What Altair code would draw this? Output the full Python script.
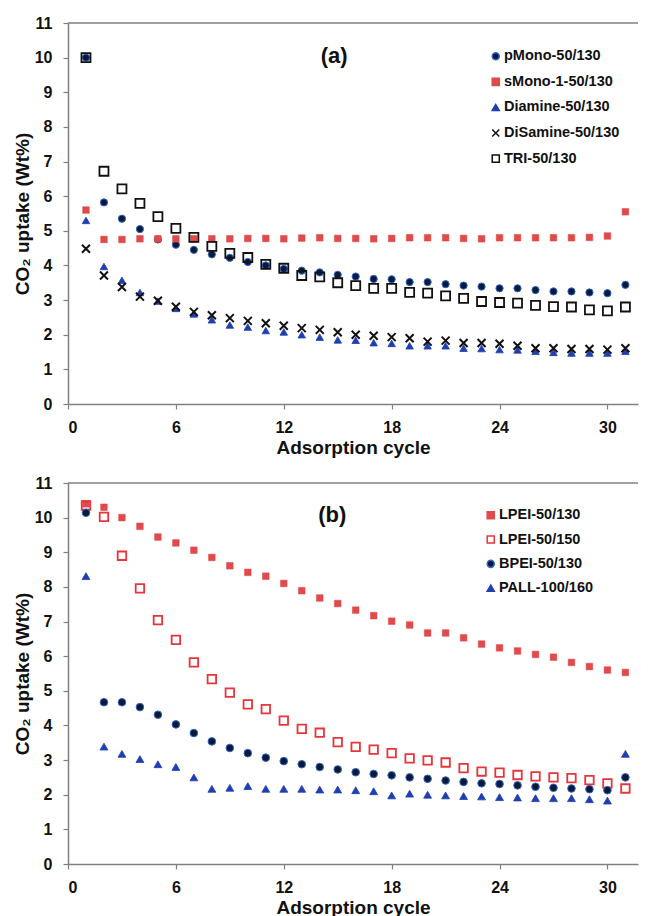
import altair as alt
import pandas as pd

FONT = "Liberation Sans"

cycles = list(range(1, 32))

# ---- Panel (a) ----
names_a = ["pMono-50/130", "sMono-1-50/130", "Diamine-50/130", "DiSamine-50/130", "TRI-50/130"]
pmono = [10, 5.82, 5.35, 5.05, 4.75, 4.6, 4.45, 4.32, 4.22, 4.1, 4.0, 3.9, 3.85, 3.8, 3.73, 3.68,
         3.61, 3.6, 3.52, 3.52, 3.46, 3.42, 3.39, 3.34, 3.34, 3.29, 3.25, 3.25, 3.22, 3.2, 3.44]
smono = [5.6, 4.75, 4.75, 4.77, 4.77, 4.77, 4.77, 4.77, 4.77, 4.78, 4.78, 4.77, 4.79, 4.8, 4.78, 4.78,
         4.77, 4.78, 4.8, 4.8, 4.8, 4.78, 4.77, 4.8, 4.8, 4.8, 4.8, 4.8, 4.81, 4.85, 5.55]
diamine = [5.3, 3.97, 3.57, 3.22, 2.97, 2.76, 2.6, 2.43, 2.28, 2.22, 2.12, 2.08, 2.0, 1.93, 1.85, 1.84,
           1.77, 1.75, 1.68, 1.68, 1.68, 1.61, 1.6, 1.57, 1.56, 1.52, 1.49, 1.47, 1.47, 1.47, 1.52]
disamine = [4.48, 3.71, 3.38, 3.1, 2.98, 2.81, 2.66, 2.56, 2.48, 2.4, 2.33, 2.26, 2.19, 2.14, 2.07, 2.0,
            1.97, 1.93, 1.9, 1.8, 1.83, 1.76, 1.76, 1.74, 1.68, 1.61, 1.61, 1.59, 1.59, 1.57, 1.61]
tri = [10, 6.72, 6.21, 5.79, 5.41, 5.07, 4.81, 4.55, 4.35, 4.23, 4.03, 3.92, 3.71, 3.67, 3.5, 3.42,
       3.34, 3.34, 3.22, 3.2, 3.12, 3.05, 2.96, 2.93, 2.91, 2.85, 2.81, 2.8, 2.72, 2.69, 2.8]
values_a = [pmono, smono, diamine, disamine, tri]

# ---- Panel (b) ----
names_b = ["LPEI-50/130", "LPEI-50/150", "BPEI-50/130", "PALL-100/160"]
lpei130 = [10.4, 10.3, 10.0, 9.75, 9.44, 9.27, 9.06, 8.85, 8.61, 8.42, 8.31, 8.1, 7.89, 7.68, 7.52, 7.33,
           7.17, 7.01, 6.9, 6.67, 6.67, 6.53, 6.35, 6.24, 6.15, 6.05, 5.97, 5.82, 5.7, 5.6, 5.53]
lpei150 = [10.35, 10.02, 8.9, 7.96, 7.04, 6.47, 5.82, 5.34, 4.95, 4.61, 4.47, 4.14, 3.9, 3.79, 3.52, 3.38,
           3.3, 3.2, 3.05, 2.99, 2.93, 2.77, 2.67, 2.64, 2.57, 2.53, 2.5, 2.48, 2.42, 2.33, 2.18]
bpei = [10.14, 4.67, 4.67, 4.53, 4.31, 4.03, 3.78, 3.54, 3.35, 3.2, 3.07, 2.97, 2.88, 2.8, 2.73, 2.65,
        2.6, 2.56, 2.5, 2.46, 2.41, 2.37, 2.33, 2.31, 2.27, 2.23, 2.2, 2.18, 2.16, 2.13, 2.5]
pall = [8.31, 3.39, 3.18, 3.03, 2.88, 2.8, 2.5, 2.17, 2.2, 2.25, 2.17, 2.17, 2.17, 2.15, 2.15, 2.13,
        2.1, 1.98, 2.03, 2.0, 1.98, 1.96, 1.95, 1.93, 1.92, 1.9, 1.9, 1.9, 1.87, 1.83, 3.18]
values_b = [lpei130, lpei150, bpei, pall]

XPATH = "M-1,-1L1,1M-1,1L1,-1"

style_a = dict(
    shapes=["circle", "square", "triangle-up", XPATH, "square"],
    fills=["#0b1a33", "#e04a4a", "#1f3fb0", "transparent", "transparent"],
    strokes=["#3366cc", "#e04a4a", "#1f3fb0", "#111111", "#111111"],
    sizes=[52, 44, 56, 64, 81],
    widths=[1, 0.5, 0.8, 2, 1.8],
)
style_b = dict(
    shapes=["square", "square", "circle", "triangle-up"],
    fills=["#e04a4a", "transparent", "#0b1a33", "#1f3fb0"],
    strokes=["#e04a4a", "#e8343a", "#3366cc", "#1f3fb0"],
    sizes=[44, 72, 58, 62],
    widths=[0.5, 1.8, 1, 0.8],
)

Y_TICKS = list(range(12))
X_TICKS = [0, 6, 12, 18, 24, 30]


def panel(names, vals, style, label, label_x, label_y, leg_x, leg_y, row_pad):
    leg = alt.Legend(
        orient="none", legendX=leg_x, legendY=leg_y, title=None,
        labelFont=FONT, labelFontSize=14.5, labelFontWeight="bold", labelColor="#111111",
        symbolSize=50, symbolStrokeWidth=1.5, rowPadding=row_pad, labelOffset=1, padding=0,
    )
    yscale = alt.Scale(domain=[0, 11], nice=False)
    xscale = alt.Scale(domain=[0, 31.7], nice=False)
    yaxis = alt.Axis(values=Y_TICKS, labelOverlap=False, title="CO₂ uptake (Wt%)")
    xaxis = alt.Axis(values=X_TICKS, labelOverlap=False, title="Adsorption cycle")
    xenc = alt.X("cycle:Q", scale=xscale, axis=xaxis)
    yenc = alt.Y("value:Q", scale=yscale, axis=yaxis)
    shape_scale = alt.Scale(domain=names, range=style["shapes"])
    fill_scale = alt.Scale(domain=names, range=style["fills"])
    stroke_scale = alt.Scale(domain=names, range=style["strokes"])

    layers = []
    for i, (n, v) in enumerate(zip(names, vals)):
        df = pd.DataFrame({"series": [n] * len(cycles), "cycle": cycles, "value": v})
        layers.append(
            alt.Chart(df).mark_point(
                opacity=1, fillOpacity=1, strokeOpacity=1,
                size=style["sizes"][i], strokeWidth=style["widths"][i],
            ).encode(
                x=xenc,
                y=yenc,
                shape=alt.Shape("series:N", scale=shape_scale, legend=leg),
                fill=alt.Fill("series:N", scale=fill_scale, legend=leg),
                stroke=alt.Stroke("series:N", scale=stroke_scale, legend=leg),
            )
        )
    top = alt.Chart(pd.DataFrame({"top": [11]})).mark_rule(color="#808080", strokeWidth=1.5).encode(
        y=alt.Y("top:Q", scale=yscale, axis=yaxis)
    )
    txt = alt.Chart(pd.DataFrame({"t": [label]})).mark_text(
        font=FONT, fontSize=22, fontWeight="bold", color="#111111", baseline="middle", align="center"
    ).encode(
        x=alt.XDatum(label_x, scale=xscale, axis=xaxis),
        y=alt.YDatum(label_y, scale=yscale, axis=yaxis),
        text="t:N",
    )
    layers.append(top)
    layers.append(txt)
    return alt.layer(*layers).properties(width=570, height=381)


top_panel = panel(names_a, values_a, style_a, "(a)", 14.8, 10.04, 420.5, 26, 10.6)
bottom_panel = panel(names_b, values_b, style_b, "(b)", 14.7, 10.08, 415.5, 25, 9.3)

chart = alt.vconcat(top_panel, bottom_panel, spacing=18).resolve_scale(
    shape="independent", fill="independent", stroke="independent",
).properties(
    padding={"left": 5, "top": 7, "right": 0, "bottom": 0}
).configure_view(stroke=None).configure_axis(
    grid=False,
    domainColor="#808080", domainWidth=1.5,
    tickColor="#808080", tickWidth=1.2, tickSize=5,
    labelFont=FONT, labelFontSize=16, labelFontWeight="bold", labelColor="#111111",
    titleFont=FONT, titleFontSize=19, titleFontWeight="bold", titleColor="#111111",
    labelPadding=10, titlePadding=3,
).configure_axisY(labelPadding=11, titlePadding=2)

chart.save("out.html", embed_options={"renderer": "svg", "actions": False})
